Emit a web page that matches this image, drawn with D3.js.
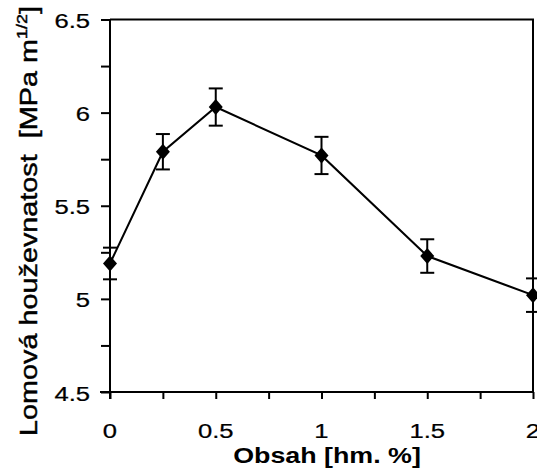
<!DOCTYPE html>
<html>
<head>
<meta charset="utf-8">
<script src="https://cdn.jsdelivr.net/npm/d3@7"></script>
<style>
  html, body { margin: 0; padding: 0; background: #fff; }
  svg { display: block; font-family: "Liberation Sans", Arial, sans-serif; }
</style>
</head>
<body>
<svg id="chart" width="537" height="468"></svg>
<script>
// Fracture toughness vs. additive content
const content = [0, 0.25, 0.5, 1, 1.5, 2];
const toughness = [5.19, 5.79, 6.03, 5.77, 5.23, 5.02];
const errors = [0.085, 0.095, 0.1, 0.1, 0.09, 0.09];
const xTicks = [0, 0.5, 1, 1.5, 2];
const xTickLabels = ["0", "0.5", "1", "1.5", "2"];
const yTicks = [4.5, 5, 5.5, 6, 6.5];
const yTickLabels = ["4.5", "5", "5.5", "6", "6.5"];
const xMinor = [0.25, 0.75, 1.25, 1.75];
const yMinor = [4.75, 5.25, 5.75, 6.25];

// the lettering is set a little wide
const WIDE = 1.22;

const svg = d3.select("#chart");
const x = d3.scaleLinear().domain([0, 2]).range([110, 533]);
const y = d3.scaleLinear().domain([4.5, 6.5]).range([392, 19.5]);

// frame: top and right edges
svg.append("path")
  .attr("d", `M${x(0)},${y(6.5)}H${x(2)}V${y(4.5)}`)
  .attr("fill", "none").attr("stroke", "#000").attr("stroke-width", 2);

// bottom axis
const xAxis = d3.axisBottom(x).tickValues(xTicks.concat(xMinor)).tickSize(7).tickFormat("");
const gx = svg.append("g").attr("transform", `translate(0,${y(4.5)})`).call(xAxis);
gx.select(".domain").attr("stroke-width", 2).attr("d", `M${x(0) - 10},0H${x(2)}`);
gx.selectAll(".tick line").attr("stroke-width", 2);
svg.append("g").selectAll("text").data(xTicks).join("text")
  .attr("transform", d => `translate(${x(d)},438) scale(${WIDE},1)`)
  .attr("text-anchor", "middle").attr("font-size", 21)
  .attr("stroke", "#000").attr("stroke-width", 0.25)
  .text((d, i) => xTickLabels[i]);

// left axis
const yAxis = d3.axisLeft(y).tickValues(yTicks.concat(yMinor)).tickSize(9).tickFormat("");
const gy = svg.append("g").attr("transform", `translate(${x(0)},0)`).call(yAxis);
gy.select(".domain").attr("stroke-width", 2).attr("d", `M0,${y(6.5)}V${y(4.5) + 7}`);
gy.selectAll(".tick line").attr("stroke-width", 2);
svg.append("g").selectAll("text").data(yTicks).join("text")
  .attr("transform", d => `translate(90,${y(d) + 8.5}) scale(${WIDE},1)`)
  .attr("text-anchor", "end").attr("font-size", 21)
  .attr("stroke", "#000").attr("stroke-width", 0.25)
  .text((d, i) => yTickLabels[i]);

// connecting line
const line = d3.line().x((d, i) => x(content[i])).y(d => y(d));
svg.append("path").datum(toughness)
  .attr("d", line).attr("fill", "none")
  .attr("stroke", "#000").attr("stroke-width", 2);

// error bars
const eb = svg.append("g").attr("stroke", "#000").attr("stroke-width", 2);
toughness.forEach((v, i) => {
  const cx = x(content[i]);
  const top = y(v + errors[i]), bot = y(v - errors[i]);
  eb.append("line").attr("x1", cx).attr("x2", cx).attr("y1", top).attr("y2", bot);
  eb.append("line").attr("x1", cx - 7).attr("x2", cx + 7).attr("y1", top).attr("y2", top);
  eb.append("line").attr("x1", cx - 7).attr("x2", cx + 7).attr("y1", bot).attr("y2", bot);
});

// diamond markers (slightly taller than wide)
const diamond = {
  draw(ctx, size) {
    const h = Math.sqrt(size / 1.75), w = h * 0.875;
    ctx.moveTo(0, -h); ctx.lineTo(w, 0); ctx.lineTo(0, h); ctx.lineTo(-w, 0); ctx.closePath();
  }
};
svg.append("g").selectAll("path").data(toughness).join("path")
  .attr("transform", (d, i) => `translate(${x(content[i])},${y(d)})`)
  .attr("d", d3.symbol(diamond, 112))
  .attr("fill", "#000");

// axis titles
svg.append("text")
  .attr("transform", `translate(327,463) scale(${WIDE},1)`)
  .attr("text-anchor", "middle").attr("font-size", 22).attr("font-weight", "bold")
  .text("Obsah [hm. %]");

const yt = svg.append("text")
  .attr("transform", `translate(37,221) rotate(-90) scale(1.2,1)`)
  .attr("text-anchor", "middle").attr("font-size", 24)
  .attr("stroke", "#000").attr("stroke-width", 0.45);
yt.append("tspan").text("Lomová houževnatost\u00a0\u00a0[MPa m");
yt.append("tspan").attr("font-size", 15).attr("dy", -10).text("1/2");
yt.append("tspan").attr("dy", 10).text("]");
</script>
</body>
</html>
